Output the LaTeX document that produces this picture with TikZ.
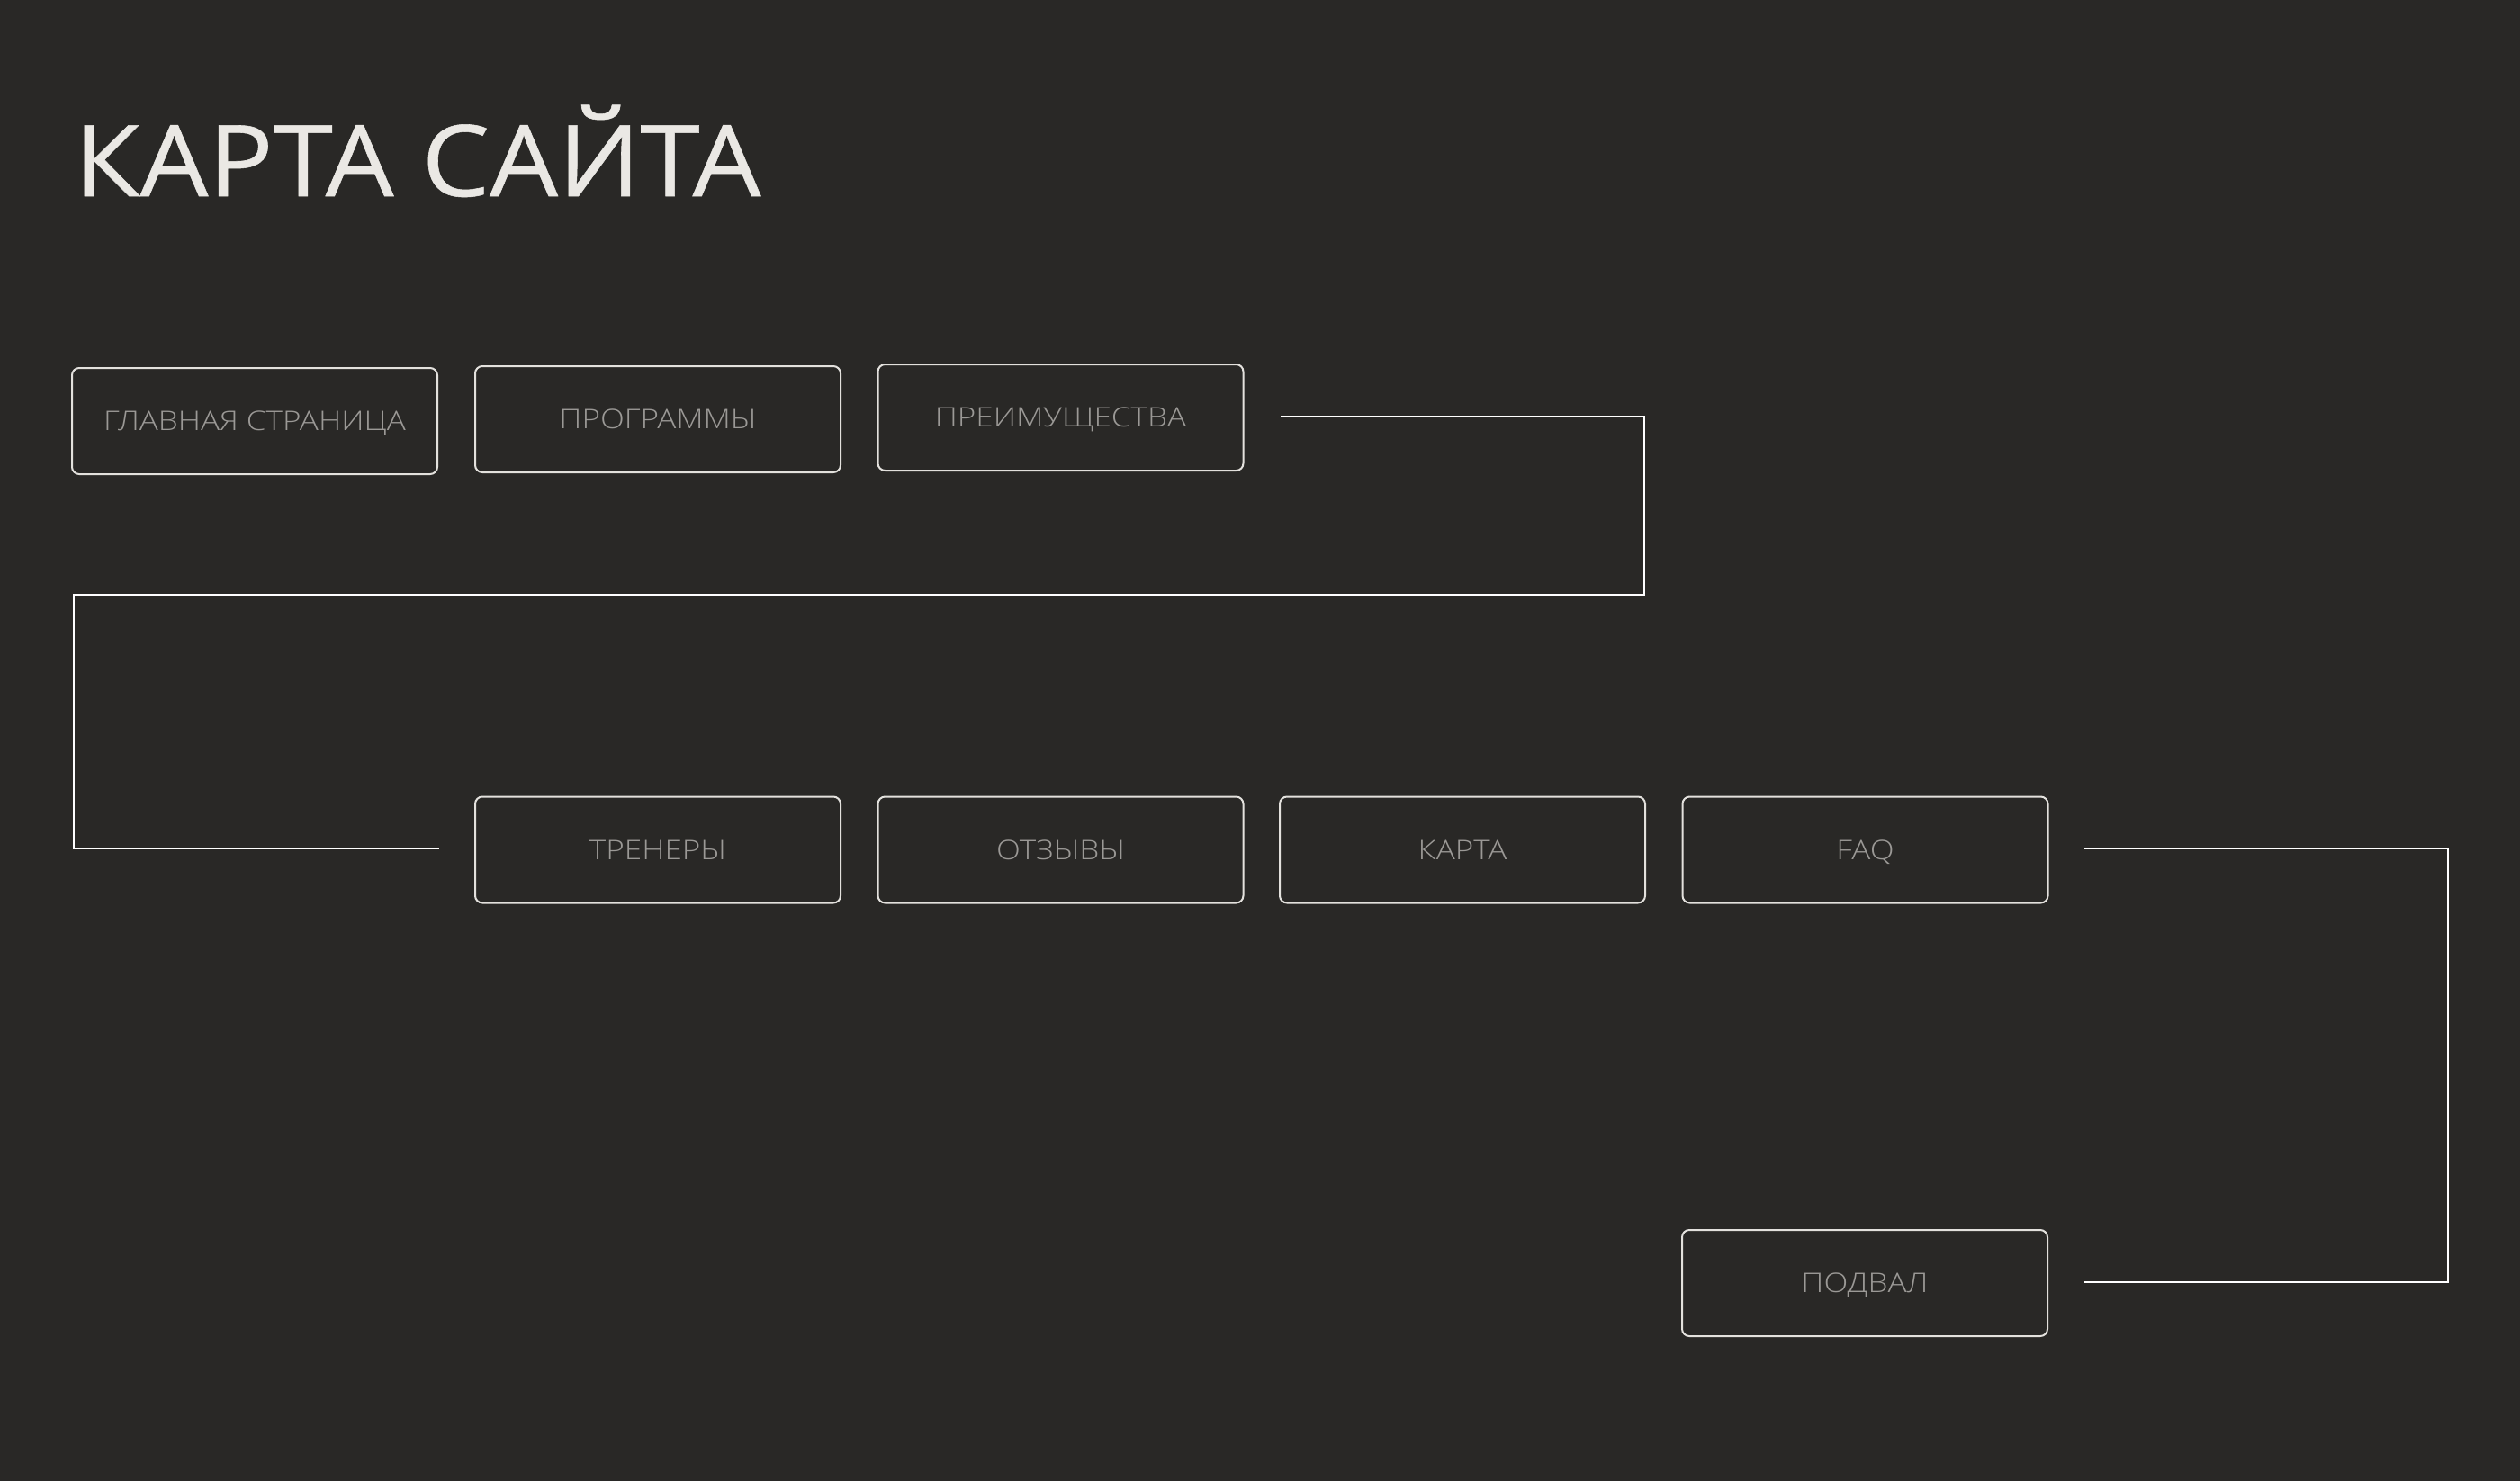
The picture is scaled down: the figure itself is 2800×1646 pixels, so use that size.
\documentclass[tikz,border=0pt]{standalone}
\usepackage{fontspec}
\IfFontExistsTF{Open Sans Light}
  {\newfontfamily\labelfont[FakeStretch=1.17]{Open Sans Light}}
  {\newfontfamily\labelfont[FakeStretch=1.17]{Open Sans}}
\IfFontExistsTF{Open Sans SemiBold}
  {\newfontfamily\titlefont[FakeStretch=1.05]{Open Sans SemiBold}}
  {\newfontfamily\titlefont[FakeStretch=1.09,FakeBold=0.5]{Open Sans}}
\definecolor{bgc}{HTML}{292826}
\definecolor{titlec}{HTML}{EAE8E4}
\definecolor{labc}{HTML}{9B9996}
\definecolor{boxc}{HTML}{E3E1DD}
\definecolor{linec}{HTML}{FFFFFF}
\tikzset{
  pagebox/.style={draw=boxc, line width=2pt, rounded corners=8pt,
    minimum width=406pt, minimum height=118pt, inner sep=0pt,
    text=labc, text height=21.5pt, text depth=0pt,
    font=\labelfont\fontsize{30}{36}\selectfont},
  conn/.style={draw=linec, line width=2pt},
  titlestyle/.style={anchor=base west, inner sep=0pt, text=titlec,
    font=\titlefont\fontsize{110}{130}\selectfont}
}
\begin{document}
\begin{tikzpicture}[x=1pt,y=1pt]
\fill[bgc] (0,0) rectangle (2800,-1646);
\useasboundingbox (0,0) rectangle (2800,-1646);
\node[titlestyle] (title) at (82,-218) {КАРТА САЙТА};
% row 1
\node[pagebox] (glav) at (283,-468) {ГЛАВНАЯ СТРАНИЦА};
\node[pagebox] (prog) at (731,-466) {ПРОГРАММЫ};
\node[pagebox] (preim) at (1178.5,-464) {ПРЕИМУЩЕСТВА};
% row 2
\node[pagebox] (trener) at (731,-944.5) {ТРЕНЕРЫ};
\node[pagebox] (otz) at (1178.5,-944.5) {ОТЗЫВЫ};
\node[pagebox] (karta) at (1625,-944.5) {КАРТА};
\node[pagebox] (faq) at (2072.5,-944.5) {FAQ};
% row 3
\node[pagebox] (podval) at (2072,-1426) {ПОДВАЛ};
% connector 1
\coordinate (s1) at (1423,-462.5);
\coordinate (a1) at (1827,-462.5);
\coordinate (a2) at (1827,-660.7);
\coordinate (a3) at (82,-660.7);
\coordinate (a4) at (82,-943);
\coordinate (e1) at (487.5,-943);
\draw[conn] (s1) -- (a1) -- (a2) -- (a3) -- (a4) -- (e1);
% connector 2
\coordinate (s2) at (2316,-943);
\coordinate (b1) at (2720,-943);
\coordinate (b2) at (2720,-1425);
\coordinate (e2) at (2316,-1425);
\draw[conn] (s2) -- (b1) -- (b2) -- (e2);
\end{tikzpicture}
\end{document}
